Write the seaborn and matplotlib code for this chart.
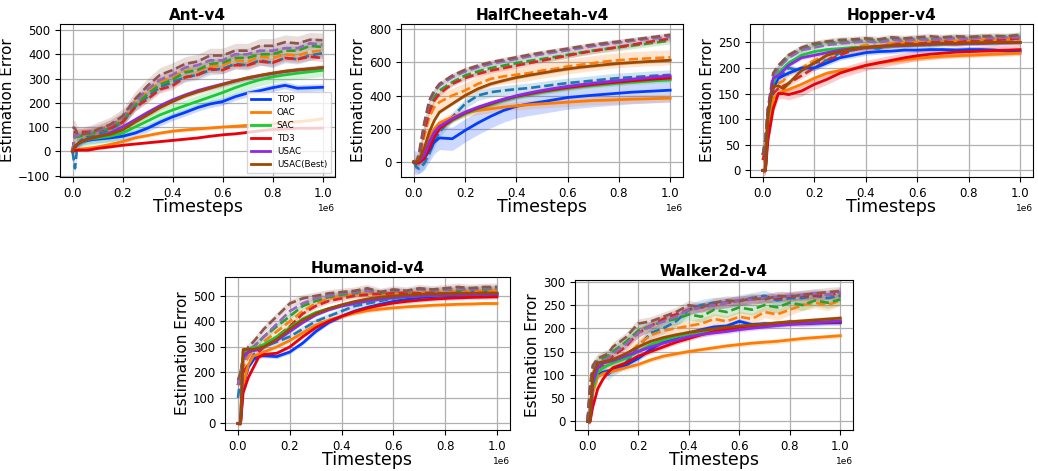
import numpy as np
import pandas as pd
import matplotlib
matplotlib.use("Agg")
import matplotlib.pyplot as plt
import seaborn as sns

# ---------------- data ----------------
methods = ["TOP", "OAC", "SAC", "TD3", "USAC", "USAC(Best)"]
envs = ["Ant-v4", "HalfCheetah-v4", "Hopper-v4", "Humanoid-v4", "Walker2d-v4"]
steps = [0, .01, .02, .04, .06, .08, .10, .15, .20, .25, .30, .35, .40, .45,
         .50, .55, .60, .65, .70, .75, .80, .85, .90, .95, 1.0]

# Ant-v4
ant_solid = {
    "TOP": [0, 15, 30, 40, 45, 48, 50, 55, 62, 75, 95, 120, 142, 160, 180, 195, 205, 225, 240, 250, 262, 272, 260, 262, 264],
    "OAC": [0, 5, 8, 10, 12, 15, 18, 28, 40, 55, 65, 75, 83, 88, 92, 96, 100, 103, 107, 110, 113, 118, 122, 127, 134],
    "SAC": [0, 20, 30, 40, 48, 52, 55, 62, 75, 100, 125, 150, 170, 188, 206, 224, 242, 262, 280, 295, 307, 315, 322, 328, 334],
    "TD3": [0, 3, 5, 5, 5, 8, 12, 18, 25, 30, 35, 40, 45, 50, 55, 62, 68, 72, 78, 85, 90, 92, 95, 95, 96],
    "USAC": [0, 20, 30, 42, 50, 55, 60, 75, 100, 130, 160, 188, 212, 232, 250, 264, 277, 290, 302, 312, 321, 329, 335, 340, 345],
    "USAC(Best)": [0, 20, 30, 42, 50, 55, 60, 70, 88, 120, 150, 180, 205, 228, 245, 260, 275, 290, 303, 313, 322, 330, 336, 340, 345],
}
ant_dashed = {
    "TOP": [0, -70, 30, 50, 60, 65, 70, 90, 120, 185, 225, 265, 285, 305, 315, 335, 340, 360, 355, 375, 365, 385, 380, 395, 405],
    "OAC": [0, 60, 60, 65, 70, 72, 80, 105, 130, 205, 245, 285, 305, 330, 335, 350, 355, 375, 370, 390, 385, 400, 395, 410, 415],
    "SAC": [0, 60, 60, 65, 70, 75, 80, 95, 125, 190, 235, 275, 295, 325, 335, 360, 365, 385, 385, 400, 400, 415, 415, 435, 430],
    "TD3": [0, 80, 80, 80, 80, 82, 85, 95, 120, 180, 215, 255, 270, 305, 315, 340, 335, 355, 355, 370, 365, 385, 380, 390, 385],
    "USAC": [0, 70, 65, 70, 75, 80, 85, 105, 140, 205, 255, 295, 315, 345, 355, 375, 375, 400, 400, 415, 415, 425, 425, 445, 440],
    "USAC(Best)": [100, 95, 70, 70, 75, 80, 90, 110, 145, 215, 270, 315, 335, 360, 370, 395, 395, 415, 415, 435, 435, 450, 445, 460, 458],
}
# HalfCheetah-v4
hc_solid = {
    "TOP": [0, -5, 0, 20, 70, 120, 145, 140, 190, 235, 275, 310, 335, 350, 362, 375, 388, 395, 402, 408, 414, 420, 424, 428, 432],
    "OAC": [0, 0, 10, 60, 150, 200, 235, 270, 295, 310, 320, 330, 338, 345, 350, 355, 360, 365, 370, 372, 375, 378, 380, 382, 384],
    "SAC": [0, 0, 0, 30, 100, 160, 200, 250, 290, 320, 345, 370, 390, 405, 420, 432, 443, 452, 460, 467, 474, 480, 485, 490, 494],
    "TD3": [0, -5, -5, 20, 80, 150, 200, 255, 295, 325, 350, 375, 395, 410, 425, 437, 448, 457, 466, 474, 481, 488, 494, 500, 505],
    "USAC": [0, 0, 5, 40, 120, 180, 215, 260, 300, 330, 355, 378, 398, 415, 430, 443, 455, 465, 474, 482, 490, 498, 505, 512, 518],
    "USAC(Best)": [0, 0, 10, 80, 180, 250, 300, 350, 400, 440, 470, 490, 508, 522, 535, 548, 560, 570, 578, 586, 593, 598, 603, 608, 612],
}
hc_dashed = {
    "TOP": [0, -30, -40, -10, 50, 120, 180, 270, 350, 400, 420, 430, 438, 445, 455, 465, 475, 482, 490, 498, 505, 510, 515, 520, 524],
    "OAC": [0, 0, 20, 150, 270, 330, 360, 400, 430, 470, 500, 515, 525, 535, 550, 560, 575, 585, 595, 605, 612, 618, 622, 626, 630],
    "SAC": [0, 0, 30, 200, 330, 390, 430, 480, 520, 545, 565, 580, 595, 608, 620, 632, 645, 658, 670, 680, 690, 700, 710, 720, 730],
    "TD3": [0, 0, 20, 180, 300, 370, 410, 470, 505, 530, 550, 565, 580, 595, 610, 625, 640, 655, 668, 680, 692, 705, 718, 730, 742],
    "USAC": [0, 0, 40, 220, 360, 420, 460, 510, 545, 570, 590, 605, 620, 635, 648, 660, 672, 685, 697, 708, 718, 728, 738, 745, 752],
    "USAC(Best)": [0, 0, 50, 230, 370, 430, 470, 520, 555, 580, 600, 615, 630, 645, 658, 670, 682, 695, 706, 716, 725, 735, 745, 755, 765],
}
# Hopper-v4
hop_solid = {
    "TOP": [0, 0, 100, 160, 180, 185, 190, 200, 200, 210, 220, 225, 230, 232, 233, 235, 235, 236, 236, 235, 236, 236, 235, 233, 232],
    "OAC": [0, 0, 80, 140, 150, 155, 158, 168, 180, 190, 195, 198, 205, 210, 213, 216, 219, 221, 223, 224, 225, 226, 227, 228, 229],
    "SAC": [0, 0, 100, 170, 190, 200, 210, 225, 232, 236, 238, 240, 241, 242, 243, 244, 245, 246, 247, 248, 248, 249, 249, 250, 250],
    "TD3": [0, 0, 60, 120, 150, 150, 148, 155, 168, 178, 190, 198, 205, 210, 215, 220, 224, 227, 229, 231, 232, 233, 234, 235, 236],
    "USAC": [0, 0, 110, 180, 185, 195, 205, 220, 225, 230, 235, 238, 240, 242, 243, 244, 245, 246, 247, 247, 248, 248, 249, 249, 250],
    "USAC(Best)": [0, 0, 110, 165, 165, 160, 170, 195, 210, 225, 232, 238, 240, 242, 244, 245, 246, 247, 248, 248, 249, 249, 250, 250, 250],
}
hop_dashed = {
    "TOP": [30, 60, 120, 170, 180, 190, 200, 195, 210, 215, 230, 235, 240, 238, 245, 245, 248, 245, 250, 248, 250, 252, 250, 255, 255],
    "OAC": [20, 50, 110, 160, 170, 175, 190, 200, 215, 225, 235, 240, 245, 243, 248, 250, 250, 252, 250, 253, 252, 255, 254, 256, 255],
    "SAC": [30, 60, 120, 180, 200, 215, 225, 235, 245, 250, 250, 252, 255, 253, 257, 255, 258, 256, 258, 260, 258, 262, 260, 262, 263],
    "TD3": [20, 40, 90, 150, 160, 165, 170, 185, 200, 215, 225, 235, 240, 242, 245, 248, 247, 250, 252, 250, 253, 252, 255, 256, 258],
    "USAC": [30, 60, 120, 180, 200, 210, 220, 235, 240, 245, 248, 250, 252, 250, 255, 253, 256, 255, 257, 258, 257, 260, 258, 260, 260],
    "USAC(Best)": [30, 60, 120, 190, 205, 215, 225, 240, 248, 252, 255, 256, 258, 256, 260, 258, 260, 262, 260, 262, 261, 262, 263, 262, 265],
}
# Humanoid-v4
hum_solid = {
    "TOP": [0, 0, 150, 220, 250, 265, 265, 262, 280, 315, 360, 395, 420, 440, 455, 467, 478, 486, 493, 497, 500, 502, 503, 505, 505],
    "OAC": [0, 0, 150, 230, 265, 270, 280, 300, 325, 355, 385, 405, 420, 432, 442, 448, 453, 457, 460, 463, 465, 467, 468, 470, 470],
    "SAC": [0, 0, 280, 290, 295, 300, 310, 340, 375, 410, 435, 450, 462, 472, 480, 487, 492, 496, 500, 502, 504, 505, 506, 507, 508],
    "TD3": [0, 0, 120, 180, 220, 260, 270, 275, 300, 340, 375, 400, 420, 438, 452, 463, 472, 478, 483, 487, 490, 492, 494, 495, 496],
    "USAC": [0, 0, 260, 280, 285, 290, 300, 325, 360, 395, 425, 445, 460, 470, 480, 487, 493, 497, 500, 502, 504, 505, 505, 506, 507],
    "USAC(Best)": [0, 0, 290, 290, 290, 295, 300, 330, 370, 405, 430, 450, 465, 478, 488, 495, 500, 503, 506, 508, 509, 510, 510, 511, 511],
}
hum_dashed = {
    "TOP": [100, 180, 200, 230, 270, 280, 300, 320, 340, 370, 400, 420, 440, 460, 470, 480, 490, 500, 505, 500, 510, 515, 520, 515, 520],
    "OAC": [150, 190, 220, 260, 290, 300, 320, 360, 400, 440, 470, 490, 500, 505, 510, 505, 512, 510, 515, 512, 515, 518, 515, 520, 520],
    "SAC": [150, 200, 260, 290, 300, 320, 340, 380, 420, 460, 480, 495, 505, 510, 520, 510, 520, 515, 525, 520, 525, 520, 530, 525, 530],
    "TD3": [150, 190, 200, 230, 260, 280, 300, 340, 380, 430, 460, 480, 490, 500, 505, 508, 510, 512, 510, 512, 508, 512, 510, 512, 510],
    "USAC": [150, 200, 240, 280, 300, 320, 340, 390, 440, 470, 490, 500, 510, 515, 520, 515, 522, 518, 525, 522, 525, 528, 525, 530, 530],
    "USAC(Best)": [170, 200, 260, 300, 320, 345, 370, 420, 470, 490, 500, 510, 515, 520, 530, 515, 525, 520, 530, 525, 530, 535, 530, 535, 535],
}
# Walker2d-v4
wal_solid = {
    "TOP": [0, 0, 70, 100, 105, 108, 110, 120, 135, 155, 170, 180, 190, 197, 203, 205, 215, 208, 210, 208, 214, 210, 211, 212, 212],
    "OAC": [0, 0, 60, 95, 102, 105, 108, 115, 122, 132, 140, 145, 150, 154, 158, 162, 165, 168, 170, 172, 175, 178, 180, 182, 184],
    "SAC": [0, 0, 70, 105, 115, 120, 125, 135, 150, 165, 175, 182, 188, 193, 197, 200, 203, 205, 207, 209, 211, 213, 214, 215, 216],
    "TD3": [0, 0, 30, 70, 90, 105, 115, 125, 140, 150, 160, 170, 178, 186, 193, 198, 202, 205, 207, 209, 210, 211, 212, 213, 214],
    "USAC": [0, 0, 80, 115, 125, 128, 130, 140, 150, 160, 168, 175, 182, 187, 190, 193, 197, 200, 203, 206, 208, 210, 212, 214, 216],
    "USAC(Best)": [0, 0, 100, 125, 128, 130, 133, 145, 160, 172, 180, 186, 191, 195, 199, 202, 205, 207, 209, 212, 214, 216, 218, 220, 222],
}
wal_dashed = {
    "TOP": [0, 70, 100, 120, 110, 100, 110, 125, 160, 190, 200, 215, 240, 250, 255, 255, 260, 265, 270, 260, 265, 265, 270, 265, 270],
    "OAC": [0, 60, 100, 110, 115, 120, 125, 140, 165, 185, 195, 200, 205, 210, 220, 215, 225, 220, 235, 230, 240, 250, 255, 250, 260],
    "SAC": [0, 70, 110, 130, 135, 140, 150, 170, 195, 205, 215, 220, 230, 225, 240, 235, 245, 240, 250, 245, 255, 250, 260, 255, 262],
    "TD3": [0, 60, 100, 115, 120, 130, 140, 160, 190, 205, 220, 230, 240, 245, 250, 255, 260, 262, 265, 265, 268, 270, 270, 272, 275],
    "USAC": [0, 70, 110, 125, 130, 135, 145, 165, 190, 205, 215, 225, 240, 245, 250, 255, 260, 262, 265, 268, 270, 272, 275, 272, 278],
    "USAC(Best)": [0, 80, 120, 135, 140, 145, 160, 180, 210, 215, 225, 235, 250, 245, 255, 260, 258, 265, 262, 270, 268, 272, 275, 278, 280],
}

# half-widths of shaded bands (solid, dashed)
band_solid = {
    "Ant-v4": [15, 8, 25, 5, 10, 10],
    "HalfCheetah-v4": [70, 25, 15, 15, 15, 10],
    "Hopper-v4": [5, 5, 4, 10, 4, 4],
    "Humanoid-v4": [8, 8, 6, 8, 6, 6],
    "Walker2d-v4": [6, 5, 5, 5, 5, 5],
}
band_dashed = {
    "Ant-v4": [20, 25, 20, 15, 25, 30],
    "HalfCheetah-v4": [30, 45, 20, 15, 15, 15],
    "Hopper-v4": [6, 6, 6, 6, 6, 6],
    "Humanoid-v4": [12, 12, 12, 10, 12, 15],
    "Walker2d-v4": [12, 12, 12, 10, 10, 10],
}
ylims = {
    "Ant-v4": (-106, 525), "HalfCheetah-v4": (-90, 830), "Hopper-v4": (-13, 286),
    "Humanoid-v4": (-26, 574), "Walker2d-v4": (-19, 304),
}
yticks = {
    "Ant-v4": [-100, 0, 100, 200, 300, 400, 500],
    "HalfCheetah-v4": [0, 200, 400, 600, 800],
    "Hopper-v4": [0, 50, 100, 150, 200, 250],
    "Humanoid-v4": [0, 100, 200, 300, 400, 500],
    "Walker2d-v4": [0, 50, 100, 150, 200, 250, 300],
}
data = {
    "Ant-v4": (ant_solid, ant_dashed),
    "HalfCheetah-v4": (hc_solid, hc_dashed),
    "Hopper-v4": (hop_solid, hop_dashed),
    "Humanoid-v4": (hum_solid, hum_dashed),
    "Walker2d-v4": (wal_solid, wal_dashed),
}

# ---------------- plotting ----------------
plt.rcParams["font.family"] = ["DejaVu Sans"]

W, H = 1038, 471
fig = plt.figure(figsize=(W / 100, H / 100), dpi=100)
boxes = {
    "Ant-v4": (60, 24, 335, 177),
    "HalfCheetah-v4": (401, 24, 683, 177),
    "Hopper-v4": (750, 24, 1033, 177),
    "Humanoid-v4": (225, 277, 510, 430),
    "Walker2d-v4": (575, 280, 853, 430),
}
solid_cols = list(sns.color_palette("bright", 6))
dashed_cols = list(sns.color_palette("tab10", 6))
x = np.array(steps) * 1e6

for env in envs:
    l, t, r, b = boxes[env]
    ax = fig.add_axes([l / W, 1 - b / H, (r - l) / W, (b - t) / H])
    solid, dashed = data[env]
    for i, m in enumerate(methods):
        yd = np.array(dashed[m], float)
        ax.fill_between(x, yd - band_dashed[env][i], yd + band_dashed[env][i],
                        color=dashed_cols[i], alpha=0.2, lw=0)
        ys = np.array(solid[m], float)
        ax.fill_between(x, ys - band_solid[env][i], ys + band_solid[env][i],
                        color=solid_cols[i], alpha=0.2, lw=0)
    for i, m in enumerate(methods):
        sns.lineplot(x=x, y=dashed[m], ax=ax, color=dashed_cols[i], lw=1.9,
                     linestyle=(0, (3.5, 1.5)), legend=False)
    for i, m in enumerate(methods):
        sns.lineplot(x=x, y=solid[m], ax=ax, color=solid_cols[i], lw=2,
                     label=m if env == "Ant-v4" else None, legend=False)
    ax.set_xlim(-0.05e6, 1.05e6)
    ax.set_ylim(*ylims[env])
    ax.set_yticks(yticks[env])
    ax.set_xticks([0, 0.2e6, 0.4e6, 0.6e6, 0.8e6, 1.0e6])
    ax.grid(True, color="#b0b0b0", lw=0.9)
    ax.set_axisbelow(True)
    ax.tick_params(labelsize=8.5, length=3.5, colors="black")
    ax.ticklabel_format(axis="x", style="sci", scilimits=(0, 0))
    ax.xaxis.get_offset_text().set_fontsize(6.5)
    ax.set_title(env, fontsize=11, fontweight="bold", pad=3)
    ax.set_xlabel("Timesteps", fontsize=12.5, labelpad=-1)
    ax.set_ylabel("Estimation Error", fontsize=11, labelpad=2)
    for s in ax.spines.values():
        s.set_visible(True)
        s.set_color("black")
    if env == "Ant-v4":
        ax.legend(loc="lower right", fontsize=6.3, frameon=True,
                  handlelength=2.2, borderpad=0.4, labelspacing=0.45,
                  handletextpad=0.8, fancybox=False)

fig.savefig("out.png", dpi=100)
